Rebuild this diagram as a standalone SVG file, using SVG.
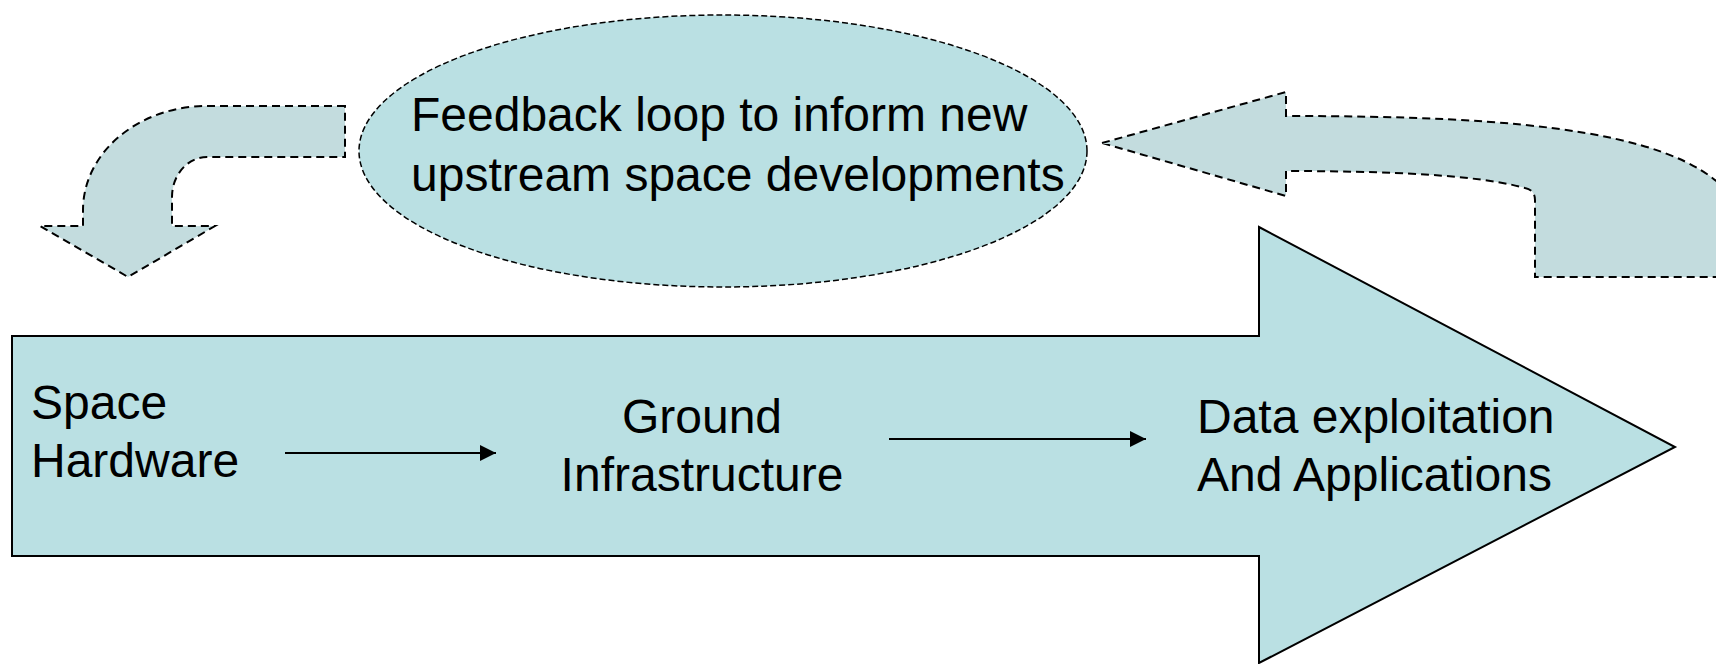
<svg xmlns="http://www.w3.org/2000/svg" width="1716" height="664" viewBox="0 0 1716 664">
<style>
.lbl{font-family:"Liberation Sans",Arial,sans-serif;font-size:48px;fill:#000}
.curved{fill:#c3dcde;stroke:#000;stroke-width:2;stroke-dasharray:8 5}
.oval{fill:#bae0e3;stroke:#000;stroke-width:1.5;stroke-dasharray:6 3}
.big{fill:#bae0e3;stroke:#000;stroke-width:2}
.conn{stroke:#000;stroke-width:2;fill:none}
</style>
<defs>
<marker id="ah" viewBox="0 0 10 10" refX="10" refY="5" markerWidth="8" markerHeight="8" markerUnits="strokeWidth" orient="auto">
<path d="M0,0 L10,5 L0,10 Z" fill="#000"/>
</marker>
</defs>
<rect width="1716" height="664" fill="#fff"/>
<g id="main-arrow">
<path class="big" d="M12,336 L1259,336 L1259,227 L1675,447 L1259,663 L1259,556 L12,556 Z"/>
</g>
<g id="feedback-left">
<path class="curved" d="M345,106 L207,106 A124 104 0 0 0 83,210 L83,226 L40,226 L128,277 L215,226 L172,226 L172,197 A35 40 0 0 1 207,157 L345,157 Z"/>
</g>
<g id="feedback-right">
<path class="curved" d="M1102,143 L1286,92 L1286,116 C1520,116 1700,130 1740,210 L1740,277 L1535,277 L1535,200 Q1535,190 1525,188 C1490,178 1420,171 1286,171 L1286,196 Z"/>
</g>
<g id="feedback-oval">
<ellipse class="oval" cx="723" cy="151" rx="364" ry="136"/>
<text class="lbl" x="411" y="131">Feedback loop to inform new</text>
<text class="lbl" x="411" y="191">upstream space developments</text>
</g>
<g id="space-hardware">
<text class="lbl" x="31" y="419">Space</text>
<text class="lbl" x="31" y="477">Hardware</text>
</g>
<g id="ground-infrastructure">
<text class="lbl" x="702" y="433" text-anchor="middle">Ground</text>
<text class="lbl" x="702" y="491" text-anchor="middle">Infrastructure</text>
</g>
<g id="data-exploitation">
<text class="lbl" x="1197" y="433">Data exploitation</text>
<text class="lbl" x="1197" y="491">And Applications</text>
</g>
<g id="connectors">
<line class="conn" x1="285" y1="453" x2="496" y2="453" marker-end="url(#ah)"/>
<line class="conn" x1="889" y1="439" x2="1146" y2="439" marker-end="url(#ah)"/>
</g>
</svg>
